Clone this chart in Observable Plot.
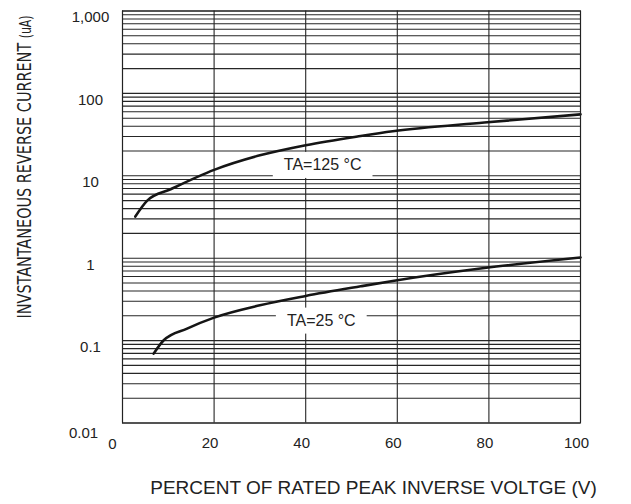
<!DOCTYPE html>
<html>
<head>
<meta charset="utf-8">
<script src="https://cdn.jsdelivr.net/npm/d3@7"></script>
<script src="https://cdn.jsdelivr.net/npm/@observablehq/plot@0.6"></script>
<style>
  html, body { margin: 0; padding: 0; background: #fff; }
</style>
</head>
<body>
<script>
// ---- data ----
const xTicks = [20, 40, 60, 80, 100];
const xZeroTick = [0];
const xGrid = [0, 20, 40, 60, 80, 100];
const yTicks = [1000, 100, 10, 1, 0.1];
const yTickLabels = ["1,000", "100", "10", "1", "0.1"];
const yBottomTick = [0.01];
const yBottomLabel = ["0.01"];

const v125 = [2.8, 5.4, 10.5, 20, 30, 40, 52, 59, 79, 100];
const i125 = [3.2, 5.0, 6.86, 11.8, 17.7, 23.5, 30.4, 34.7, 44.3, 55.7];
const v25  = [6.8, 9.0, 14.1, 20, 30, 40, 52, 59, 79, 100];
const i25  = [0.0695, 0.101, 0.14, 0.19, 0.268, 0.348, 0.456, 0.53, 0.76, 1.02];

const labelText = ["TA=125 °C", "TA=25 °C"];
const labelX = [43.7, 43.4];
const labelY = [13.4, 0.173];

const xTitle = "PERCENT OF RATED PEAK INVERSE VOLTGE (V)";
const yTitle = "INVSTANTANEOUS REVERSE CURRENT";
const yUnit = "(uA)";

// ---- derived tables ----
const curve125 = v125.map((v, i) => ({v, i: i125[i]}));
const curve25 = v25.map((v, i) => ({v, i: i25[i]}));
const labels = labelText.map((t, k) => ({t, x: labelX[k], y: labelY[k]}));
const yGrid = [];
for (const d of [0.01, 0.1, 1, 10, 100]) for (let m = 1; m <= 9; m++) yGrid.push(m * d);
yGrid.push(1000);
const fmtY = new Map(yTicks.map((t, k) => [t, yTickLabels[k]]));

const font = "'Liberation Sans', Arial, Helvetica, sans-serif";

const plot = Plot.plot({
  width: 631,
  height: 504,
  marginLeft: 122,
  marginRight: 51,
  marginTop: 10.5,
  marginBottom: 81.5,
  style: {fontFamily: font, fontSize: "15px", color: "#222", background: "#fff"},
  x: {domain: [0, 100]},
  y: {type: "log", domain: [0.01, 1000]},
  marks: [
    Plot.ruleY(yGrid, {stroke: "#262626", strokeWidth: 1.1}),
    Plot.ruleX(xGrid, {stroke: "#262626", strokeWidth: 1.1}),
    Plot.text(labels, {x: "x", y: "y", text: "t", fontSize: 16, fill: "#222"}),
    Plot.line(curve125, {x: "v", y: "i", curve: "monotone-x", stroke: "#151515", strokeWidth: 2.6}),
    Plot.line(curve25, {x: "v", y: "i", curve: "monotone-x", stroke: "#151515", strokeWidth: 2.6}),
    Plot.frame({stroke: "#222", strokeWidth: 1.1}),
    Plot.axisY(yTicks, {tickSize: 0, textAnchor: "middle", dx: -23, dy: 6.5, fontSize: 15, fill: "#222", tickFormat: d => fmtY.get(d)}),
    Plot.axisY(yBottomTick, {tickSize: 0, textAnchor: "middle", dx: -30, dy: 10, fontSize: 15, fill: "#222", tickFormat: () => yBottomLabel[0]}),
    Plot.axisX(xTicks, {tickSize: 0, tickPadding: 14, dx: -4, fontSize: 15, fill: "#222", label: null}),
    Plot.axisX(xZeroTick, {tickSize: 0, tickPadding: 15, dx: -10, fontSize: 15, fill: "#222", label: null}),
    Plot.text([xTitle], {frameAnchor: "bottom", text: d => d, dx: 22, dy: 70.5, fontSize: 19, fill: "#222"}),
    Plot.text([yTitle], {frameAnchor: "left", textAnchor: "middle", text: d => d, rotate: -90, dx: -98, dy: -50, fontSize: 20, fill: "#222",
      fontFamily: "'Liberation Sans Narrow', 'Arial Narrow', 'DejaVu Sans Condensed', sans-serif"})
  ]
});
document.body.append(plot);

const allText = d3.select(plot).selectAll("text").nodes();

// white boxes behind curve labels (masking the grid)
allText.filter(n => labelText.includes(n.textContent)).forEach(node => {
  const b = node.getBBox();
  const padX = 11, padY = 4.5;
  const rect = document.createElementNS("http://www.w3.org/2000/svg", "rect");
  const tf = node.getAttribute("transform");
  if (tf) rect.setAttribute("transform", tf);
  rect.setAttribute("x", b.x - padX);
  rect.setAttribute("y", b.y - padY);
  rect.setAttribute("width", b.width + 2 * padX);
  rect.setAttribute("height", b.height + 2 * padY);
  rect.setAttribute("fill", "#fff");
  rect.setAttribute("stroke", "none");
  node.parentNode.insertBefore(rect, node);
});

// y title with smaller unit
allText.filter(n => n.textContent === yTitle).forEach(node => {
  const t = d3.select(node);
  t.text(null);
  t.append("tspan").text(yTitle + " ");
  t.append("tspan").attr("font-size", 15).text(yUnit);
  t.attr("text-anchor", "middle").attr("textLength", 303).attr("lengthAdjust", "spacingAndGlyphs");
});
</script>
</body>
</html>
